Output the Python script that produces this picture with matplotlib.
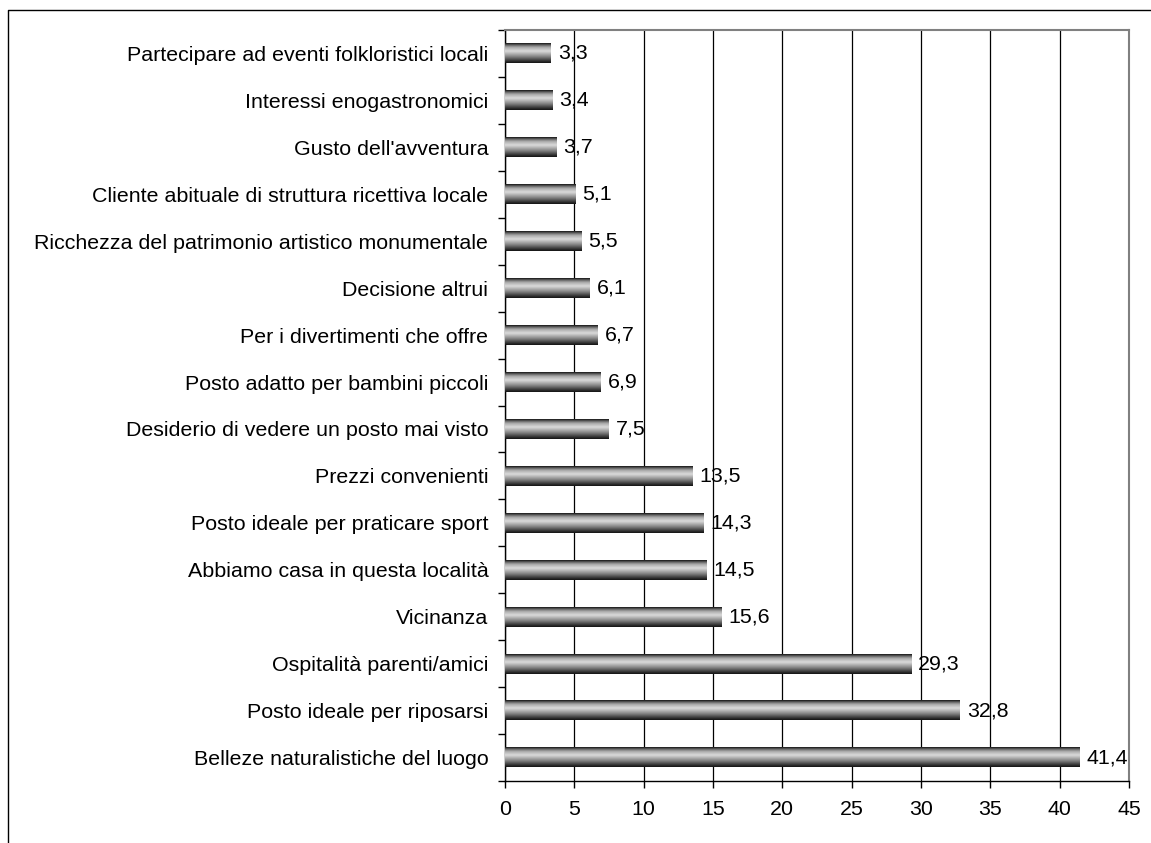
import matplotlib
matplotlib.use("Agg")
import matplotlib.pyplot as plt
import numpy as np
from matplotlib.colors import LinearSegmentedColormap
from matplotlib.lines import Line2D

categories = [
    "Belleze naturalistiche del luogo",
    "Posto ideale per riposarsi",
    "Ospitalità parenti/amici",
    "Vicinanza",
    "Abbiamo casa in questa località",
    "Posto ideale per praticare sport",
    "Prezzi convenienti",
    "Desiderio di vedere un posto mai visto",
    "Posto adatto per bambini piccoli",
    "Per i divertimenti che offre",
    "Decisione altrui",
    "Ricchezza del patrimonio artistico monumentale",
    "Cliente abituale di struttura ricettiva locale",
    "Gusto dell'avventura",
    "Interessi enogastronomici",
    "Partecipare ad eventi folkloristici locali",
]
values = [41.4, 32.8, 29.3, 15.6, 14.5, 14.3, 13.5, 7.5, 6.9, 6.7, 6.1, 5.5, 5.1, 3.7, 3.4, 3.3]
xticks = [0, 5, 10, 15, 20, 25, 30, 35, 40, 45]

plt.rcParams['font.family'] = ['Liberation Sans', 'DejaVu Sans']
FS = 15.4

W, H = 1151, 843
fig = plt.figure(figsize=(W/100, H/100), dpi=100)
ax = fig.add_axes([505/W, 1-781/H, (1129-505)/W, (781-30)/H])

cmap = LinearSegmentedColormap.from_list(
    "g", [(0.0, "#111111"), (0.12, "#3a3a3a"), (0.35, "#8e8e8e"), (0.6, "#dcdcdc"),
          (0.8, "#a8a8a8"), (0.92, "#5a5a5a"), (1.0, "#111111")])
grad = np.linspace(0, 1, 64).reshape(-1, 1)
bh = 0.42
for i, v in enumerate(values):
    ax.imshow(grad[::-1], cmap=cmap, aspect='auto', extent=[0, v, i - bh/2, i + bh/2],
              interpolation='bicubic', zorder=3)
    ax.annotate(f"{v:.1f}".replace('.', ','), (v, i), xytext=(5, 0), textcoords='offset points',
                va='center', ha='left', fontsize=FS, zorder=4)

ax.set_xlim(0, 45)
ax.set_ylim(-0.5, len(values) - 0.5)
ax.set_xticks(xticks)
ax.set_xticklabels([str(t) for t in xticks], fontsize=FS)
ax.set_yticks(range(len(categories)))
ax.set_yticklabels(categories, fontsize=FS)
ax.set_yticks(np.arange(-0.5, len(categories), 1), minor=True)
ax.tick_params(axis='y', which='major', length=0, pad=12)
ax.tick_params(axis='y', which='minor', length=5, direction='out', width=1)
ax.tick_params(axis='x', which='major', length=5, direction='out', width=1, pad=9)
ax.grid(axis='x', color='black', linewidth=0.9, zorder=1)
ax.set_axisbelow(True)
for s in ['top', 'right']:
    ax.spines[s].set_color('#808080')
    ax.spines[s].set_linewidth(1.5)
for s in ['left', 'bottom']:
    ax.spines[s].set_color('black')
    ax.spines[s].set_linewidth(1)

fig.add_artist(Line2D([8/W, 8/W, 1], [0, 1-10/H, 1-10/H], transform=fig.transFigure,
                      color='black', linewidth=1))

fig.savefig("out.png", dpi=100)
